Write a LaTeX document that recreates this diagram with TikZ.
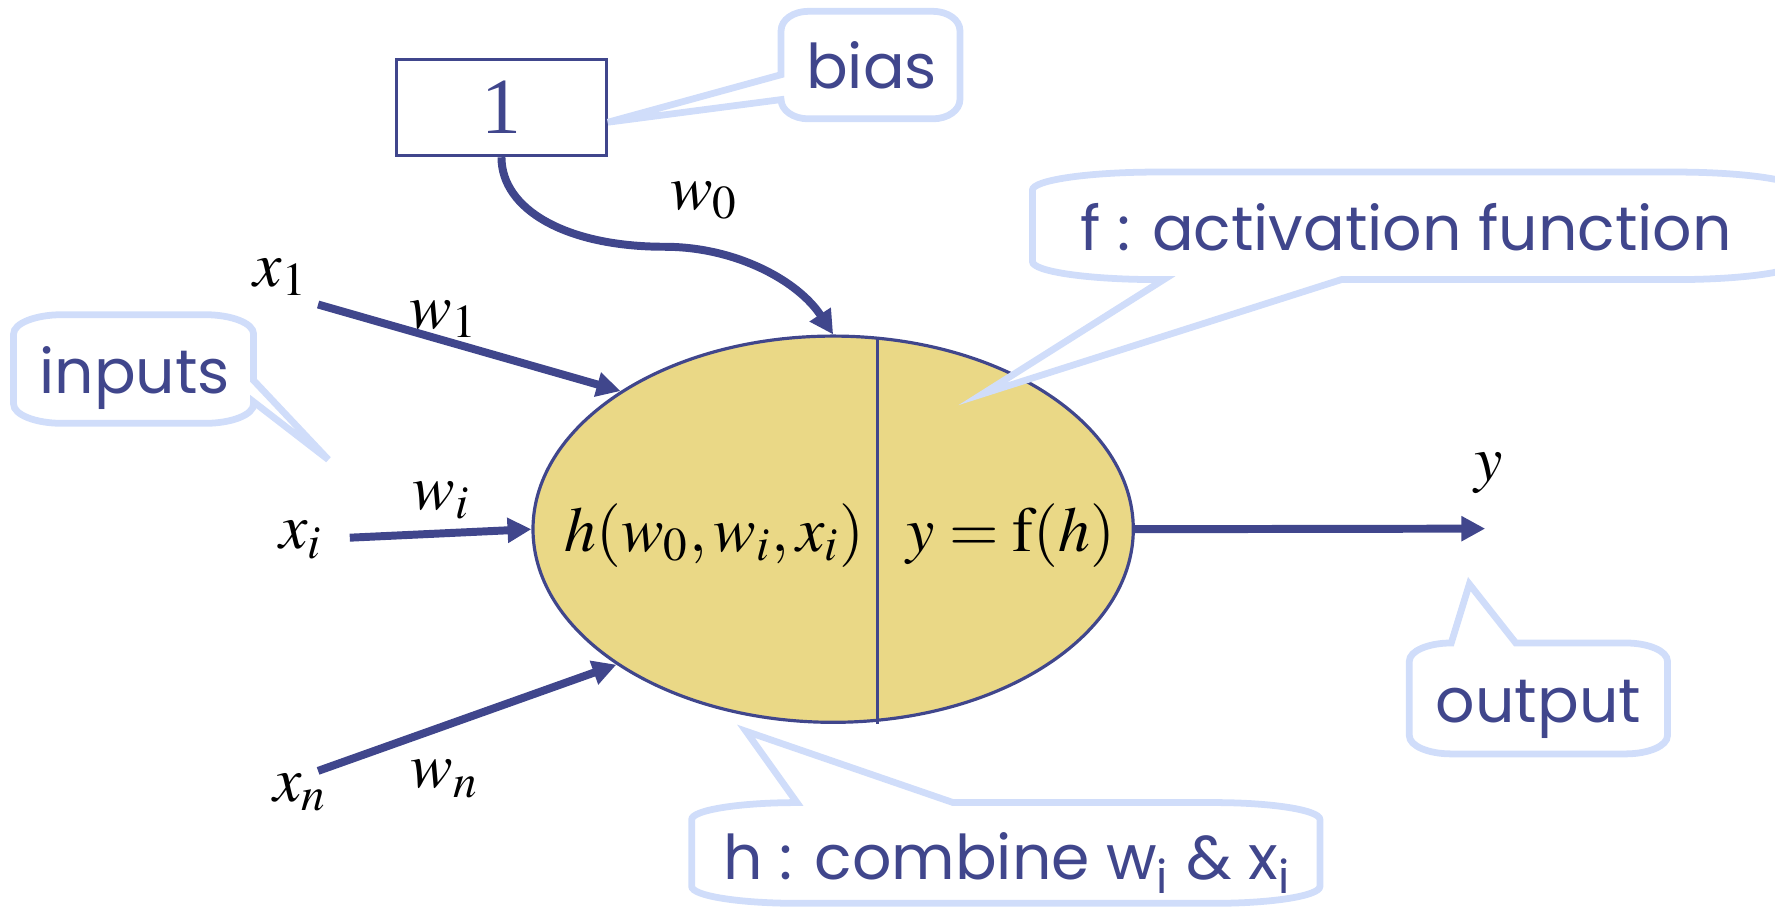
\documentclass[tikz,border=0pt]{standalone}
\usepackage{mathptmx}
\usepackage[no-math]{fontspec}
\setmainfont{Liberation Serif}
\newfontfamily\calloutfont{Poppins}
\usetikzlibrary{arrows.meta,shapes.geometric}
\definecolor{nblue}{RGB}{64,70,140}
\definecolor{cblue}{RGB}{208,221,250}
\definecolor{nyellow}{RGB}{234,216,134}

\begin{document}
\begin{tikzpicture}[x=0.01cm,y=-0.01cm,>={Triangle[length=6pt,width=6pt]},
    arr/.style={->,nblue,line width=2pt},
    callout/.style={draw=cblue,fill=white,line width=1.7pt},
    ctext/.style={nblue,anchor=base,font=\calloutfont\fontsize{15.5}{18}\selectfont},
    lbl/.style={font=\fontsize{16}{19}\selectfont}]
  \useasboundingbox (0,0) rectangle (1568,804);

  % neuron
  \node[ellipse,draw=nblue,line width=0.8pt,fill=nyellow,inner sep=0pt,
        minimum width=5.3cm,minimum height=3.41cm] (neuron) at (736,467.5) {};
  \draw[nblue,line width=0.8pt] (775,299) -- (775,640);
  \node[lbl,anchor=base] (hfun) at (631,487) {$h(w_0,w_i,x_i)$};
  \node[lbl,anchor=base] (ffun) at (893,487) {$y=\mathrm{f}(h)$};

  % bias
  \node[draw=nblue,line width=0.8pt,minimum width=1.85cm,minimum height=0.85cm,
        text=nblue,font=\fontsize{20}{24}\selectfont] (one) at (443,95) {1};
  \draw[arr] (one.south) .. controls (443,185) and (500,218) .. (587,218)
    .. controls (650,218) and (705,248) .. (neuron.north);
  \node[lbl] (w0) at (622,177) {$w_0$};

  % inputs
  \coordinate (in1) at (281,269);
  \coordinate (ini) at (309,475);
  \coordinate (inn) at (281,681);
  \node[lbl] (x1) at (248,245) {$x_1$};
  \node[lbl] (xi) at (266,477) {$x_i$};
  \node[lbl] (xn) at (265,700) {$x_n$};
  \node[lbl] (w1) at (392,282) {$w_1$};
  \node[lbl] (wi) at (390,442) {$w_i$};
  \node[lbl] (wn) at (393,688) {$w_n$};
  \draw[arr] (in1) -- (neuron.147.6);
  \draw[arr] (ini) -- (neuron.west);
  \draw[arr] (inn) -- (neuron.212.7);

  % output
  \coordinate (outy) at (1312,467);
  \draw[arr] (neuron.east) -- (outy);
  \node[lbl] (y) at (1315,418) {$y$};

  % callouts
  \draw[callout] (537,108) -- (690,66) -- (690,27)
    arc[start angle=180,end angle=270,x radius=24,y radius=17] -- (824,10)
    arc[start angle=270,end angle=360,x radius=24,y radius=17] -- (848,88)
    arc[start angle=0,end angle=90,x radius=24,y radius=17] -- (714,105)
    arc[start angle=90,end angle=180,x radius=24,y radius=17] -- cycle;
  \node[ctext] (bias) at (770,78) {bias};

  \draw[callout] (290,406) -- (224,355) -- (224,357)
    arc[start angle=0,end angle=90,x radius=43,y radius=17] -- (55,374)
    arc[start angle=90,end angle=180,x radius=43,y radius=17] -- (12,295)
    arc[start angle=180,end angle=270,x radius=43,y radius=17] -- (181,278)
    arc[start angle=270,end angle=360,x radius=43,y radius=17] -- (224,336) -- cycle;
  \node[ctext] (inputs) at (119,348) {inputs};

  \draw[callout] (868,348) -- (1028,247) -- (1022,247)
    arc[start angle=90,end angle=180,x radius=110,y radius=16] -- (912,168)
    arc[start angle=180,end angle=270,x radius=110,y radius=16] -- (1480,152)
    arc[start angle=270,end angle=360,x radius=110,y radius=16] -- (1590,231)
    arc[start angle=0,end angle=90,x radius=110,y radius=16] -- (1185,247) -- cycle;
  \node[ctext] (act) at (1242,221) {f : activation function};

  \draw[callout] (659,646) -- (842,709) -- (1073,709)
    arc[start angle=270,end angle=360,x radius=93,y radius=15] -- (1166,783)
    arc[start angle=0,end angle=90,x radius=93,y radius=15] -- (704,798)
    arc[start angle=90,end angle=180,x radius=93,y radius=15] -- (611,724)
    arc[start angle=180,end angle=270,x radius=93,y radius=15] -- cycle;
  \node[ctext] (comb) at (890,777) {h : combine w\textsubscript{i} \& x\textsubscript{i}};

  \draw[callout] (1298,516) -- (1339,568) -- (1436,568)
    arc[start angle=270,end angle=360,x radius=37,y radius=16] -- (1473,650)
    arc[start angle=0,end angle=90,x radius=37,y radius=16] -- (1282,666)
    arc[start angle=90,end angle=180,x radius=37,y radius=16] -- (1245,584)
    arc[start angle=180,end angle=270,x radius=37,y radius=16] -- cycle;
  \node[ctext] (output) at (1359,638) {output};
\end{tikzpicture}
\end{document}
